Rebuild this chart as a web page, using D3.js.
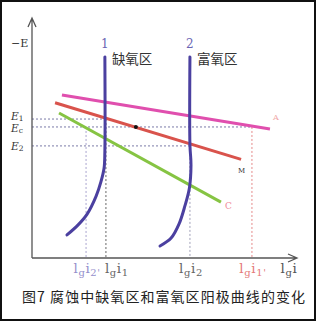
<!DOCTYPE html>
<html lang="zh">
<head>
<meta charset="UTF-8">
<script src="https://d3js.org/d3.v7.min.js"></script>
<style>
    body { margin: 0; background: #fff; }
    svg { display: block; }
    .serif { font-family: "DejaVu Serif", "Liberation Serif", serif; }
    .cjk { font-family: "Noto Sans CJK SC", sans-serif; }
</style>
</head>
<body>
<svg id="chart" width="316" height="321"></svg>
<script>
// potential levels (-E) and current marks (lg i), in chart units
const levelNames = ["1", "c", "2"];
const levelValues = [5.79, 5.46, 4.67];
const tickNames = ["2'", "1", "2", "1'"];
const tickValues = [2.04, 2.79, 5.96, 8.30];

// straight lines, [lg i, -E] at start and end
const lineNames = ["A", "M", "C"];
const lineStart = [[1.13, 6.79], [0.87, 6.47], [1.02, 6.04]];
const lineEnd = [[8.98, 5.375], [7.89, 4.11], [7.13, 2.33]];
const lineColors = ["#e04fae", "#d9534c", "#86c443"];

// anodic curves 1 (缺氧区) and 2 (富氧区)
const curve1 = [[2.75, 8.38], [2.75, 4.5], [2.72, 3.75], [2.6, 3.17], [2.42, 2.58], [2.08, 1.83], [1.74, 1.38], [1.32, 0.96]];
const curve2 = [[5.96, 8.38], [5.96, 4.71], [6.0, 3.88], [5.94, 2.92], [5.77, 2.17], [5.55, 1.42], [5.25, 0.83], [4.83, 0.5]];
const mixedPoint = [3.92, 5.46];

const svg = d3.select("#chart");
const x = d3.scaleLinear().domain([0, 10]).range([32, 297]);
const y = d3.scaleLinear().domain([0, 10]).range([258, 18]);

svg.append("rect")
    .attr("x", 1).attr("y", 1).attr("width", 314).attr("height", 319)
    .attr("fill", "#fff").attr("stroke", "#111").attr("stroke-width", 2);

// dashed guides
const dash = svg.append("g").attr("fill", "none").attr("stroke-width", 1).attr("stroke-dasharray", "2,2");
const guides = [
    { x1: 0, y1: levelValues[0], x2: tickValues[1], y2: levelValues[0], c: "#7a7aa8" },
    { x1: 0, y1: levelValues[1], x2: tickValues[3], y2: levelValues[1], c: "#7a7aa8" },
    { x1: 0, y1: levelValues[2], x2: tickValues[2], y2: levelValues[2], c: "#7a7aa8" },
    { x1: tickValues[0], y1: levelValues[1], x2: tickValues[0], y2: 0, c: "#a9a4cf" },
    { x1: tickValues[1], y1: levelValues[0], x2: tickValues[1], y2: 0, c: "#666" },
    { x1: tickValues[2], y1: levelValues[2], x2: tickValues[2], y2: 0, c: "#a0a0b8" },
    { x1: tickValues[3], y1: levelValues[1], x2: tickValues[3], y2: 0, c: "#e58a8a" }
];
dash.selectAll("line").data(guides).enter().append("line")
    .attr("x1", d => x(d.x1)).attr("y1", d => y(d.y1))
    .attr("x2", d => x(d.x2)).attr("y2", d => y(d.y2))
    .attr("stroke", d => d.c);

// axes with arrows
const axis = svg.append("g").attr("stroke", "#555").attr("stroke-width", 1.3).attr("fill", "none");
axis.append("path").attr("d", `M${x(0)},${y(0)}V${y(10)}M${x(0) - 4},${y(10) + 9}L${x(0)},${y(10)}L${x(0) + 4},${y(10) + 9}`);
axis.append("path").attr("d", `M${x(0)},${y(0)}H${x(10)}M${x(10) - 9},${y(0) - 4}L${x(10)},${y(0)}L${x(10) - 9},${y(0) + 4}`);

// straight lines A, M, C
svg.selectAll(".pol").data(lineNames).enter().append("line")
    .attr("class", "pol")
    .attr("x1", (d, i) => x(lineStart[i][0])).attr("y1", (d, i) => y(lineStart[i][1]))
    .attr("x2", (d, i) => x(lineEnd[i][0])).attr("y2", (d, i) => y(lineEnd[i][1]))
    .attr("stroke", (d, i) => lineColors[i]).attr("stroke-width", 3);

// anodic curves
const curveLine = d3.line().x(d => x(d[0])).y(d => y(d[1])).curve(d3.curveCatmullRom.alpha(0.5));
svg.selectAll(".anode").data([curve1, curve2]).enter().append("path")
    .attr("class", "anode")
    .attr("d", d => curveLine(d))
    .attr("fill", "none").attr("stroke", "#4b40a0").attr("stroke-width", 3).attr("stroke-linecap", "round");

svg.append("circle").attr("cx", x(mixedPoint[0])).attr("cy", y(mixedPoint[1])).attr("r", 2).attr("fill", "#111");

// line end labels
const labelPos = [[3, -9, "#f0a8a8", 8], [-3, 14, "#333", 7], [4, 7, "#f08a9a", 9]];
svg.selectAll(".lbl").data(lineNames).enter().append("text")
    .attr("class", "serif")
    .attr("x", (d, i) => x(lineEnd[i][0]) + labelPos[i][0])
    .attr("y", (d, i) => y(lineEnd[i][1]) + labelPos[i][1])
    .attr("fill", (d, i) => labelPos[i][2])
    .attr("font-size", (d, i) => labelPos[i][3])
    .text(d => d);

// curve numbers and region names
[[curve1, "1", "缺氧区"], [curve2, "2", "富氧区"]].forEach(([c, n, name]) => {
    svg.append("text").attr("class", "serif")
        .attr("x", x(c[0][0])).attr("y", y(c[0][1]) - 9)
        .attr("text-anchor", "middle").attr("font-size", 12).attr("fill", "#6a64b4").text(n);
    svg.append("text").attr("class", "cjk")
        .attr("x", x(c[0][0]) + 7).attr("y", y(c[0][1]) + 7)
        .attr("font-size", 13.5).attr("fill", "#333").text(name);
});

// y labels
svg.append("text").attr("class", "serif").attr("x", 11).attr("y", 47)
    .attr("font-size", 11).attr("fill", "#333").text("−E");
const levelShift = [0.5, 5, 4];
levelNames.forEach((n, i) => {
    const t = svg.append("text").attr("class", "serif")
        .attr("x", 11).attr("y", y(levelValues[i]) + levelShift[i])
        .attr("font-size", 10.5).attr("fill", "#333");
    t.append("tspan").attr("font-style", "italic").text("E");
    t.append("tspan").attr("font-size", 7.5).attr("dy", 1).text(n);
});

// x labels, "l g i sub"
const tickColors = ["#958fcc", "#666", "#666", "#e57a7a"];
const tickAnchor = ["middle", "start", "middle", "middle"];
function lgLabel(px, sub, color, anchor) {
    const t = svg.append("text").attr("class", "serif")
        .attr("x", px).attr("y", 273).attr("font-size", 13.5)
        .attr("letter-spacing", 0.6)
        .attr("text-anchor", anchor).attr("fill", color);
    t.append("tspan").text("l");
    t.append("tspan").attr("font-size", 10).attr("dy", 3).text("g");
    t.append("tspan").attr("dy", -3).text("i");
    if (sub) t.append("tspan").attr("font-size", 10).attr("dy", 3).text(sub);
}
tickNames.forEach((n, i) => lgLabel(x(tickValues[i]) + (i === 1 ? -1 : 1), n, tickColors[i], tickAnchor[i]));
lgLabel(289, "", "#555", "middle");

svg.append("text").attr("class", "cjk")
    .attr("x", 22).attr("y", 302).attr("font-size", 14)
    .attr("textLength", 283).attr("fill", "#222")
    .text("图7 腐蚀中缺氧区和富氧区阳极曲线的变化");
</script>
</body>
</html>
